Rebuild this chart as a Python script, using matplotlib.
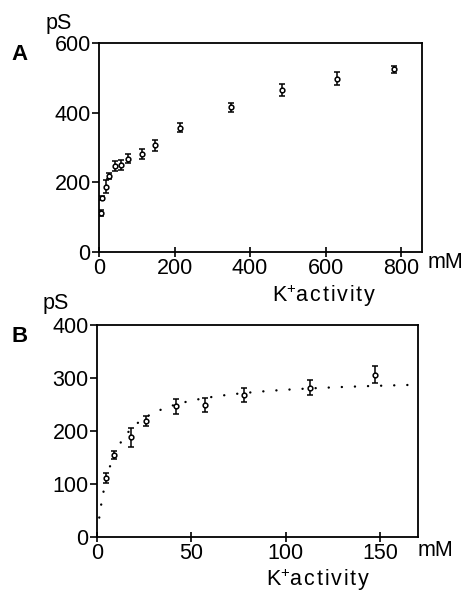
import numpy as np
import matplotlib
matplotlib.use("Agg")
import matplotlib.pyplot as plt

plt.rcParams['font.family'] = ['Liberation Sans', 'DejaVu Sans']
plt.rcParams['mathtext.default'] = 'regular'

# Single-channel conductance vs K+ activity
k_low = [5, 9, 18, 26, 42, 57, 78, 113, 147]            # mM
g_low = [111, 155, 188, 219, 247, 249, 268, 282, 306]   # pS
e_low = [9, 7, 18, 9, 14, 14, 13, 14, 16]

k_high = [215, 349, 485, 630, 780]
g_high = [357, 415, 464, 498, 524]
e_high = [13, 13, 17, 18, 9]

# Michaelis-Menten fit parameters for panel B
g_max = 302.0   # pS
k_half = 8.7    # mM

xticks_a = [0, 200, 400, 600, 800]
yticks_a = [0, 200, 400, 600]
xticks_b = [0, 50, 100, 150]
yticks_b = [0, 100, 200, 300, 400]

FS = 15.5
W, H = 467, 598
fig = plt.figure(figsize=(W / 100, H / 100), dpi=100)


def axes_px(left, top, right, bottom):
    return fig.add_axes([left / W, 1 - bottom / H, (right - left) / W, (bottom - top) / H])


def style(ax):
    for s in ax.spines.values():
        s.set_linewidth(1.3)
        s.set_color('black')
    ax.tick_params(axis='y', direction='out', length=5, width=1.2, pad=1, labelsize=FS)
    ax.tick_params(axis='x', direction='inout', length=7, width=1.2, pad=1, labelsize=FS)


ebkw = dict(fmt='o', ms=3.4, mfc='white', mec='black', mew=1.1,
            ecolor='black', elinewidth=1.1, capsize=2.2, capthick=1.1, zorder=3)

# Panel A
axA = axes_px(99, 43, 422, 252)
axA.errorbar(k_low + k_high, g_low + g_high, yerr=e_low + e_high, **ebkw)
axA.set_xlim(0, 855)
axA.set_ylim(0, 600)
axA.set_xticks(xticks_a)
axA.set_yticks(yticks_a)
style(axA)

# Panel B
axB = axes_px(97, 325, 418, 537)
kf = np.linspace(1.2, 170, 400)
axB.plot(kf, g_max * kf / (k_half + kf), color='black', lw=1.7,
         linestyle=(0, (0.05, 5.5)), dash_capstyle='round', zorder=2)
axB.errorbar(k_low, g_low, yerr=e_low, **ebkw)
axB.set_xlim(0, 170)
axB.set_ylim(0, 400)
axB.set_xticks(xticks_b)
axB.set_yticks(yticks_b)
style(axB)

# Labels
def ftext(x, y, s, **kw):
    fig.text(x / W, 1 - y / H, s, **kw)

sp = '\u200a'
xlabel = 'K$^{+}$' + sp.join('activity')

ftext(59, 23, 'pS', fontsize=FS, ha='center', va='center')
ftext(20, 54, 'A', fontsize=16, fontweight='bold', ha='center', va='center')
ftext(445, 263, 'mM', fontsize=FS, ha='center', va='center')
ftext(324, 296, xlabel, fontsize=FS, ha='center', va='center')

ftext(56, 303, 'pS', fontsize=FS, ha='center', va='center')
ftext(20, 336, 'B', fontsize=16, fontweight='bold', ha='center', va='center')
ftext(435, 550, 'mM', fontsize=FS, ha='center', va='center')
ftext(318, 580, xlabel, fontsize=FS, ha='center', va='center')

fig.savefig('out.png', dpi=100)
